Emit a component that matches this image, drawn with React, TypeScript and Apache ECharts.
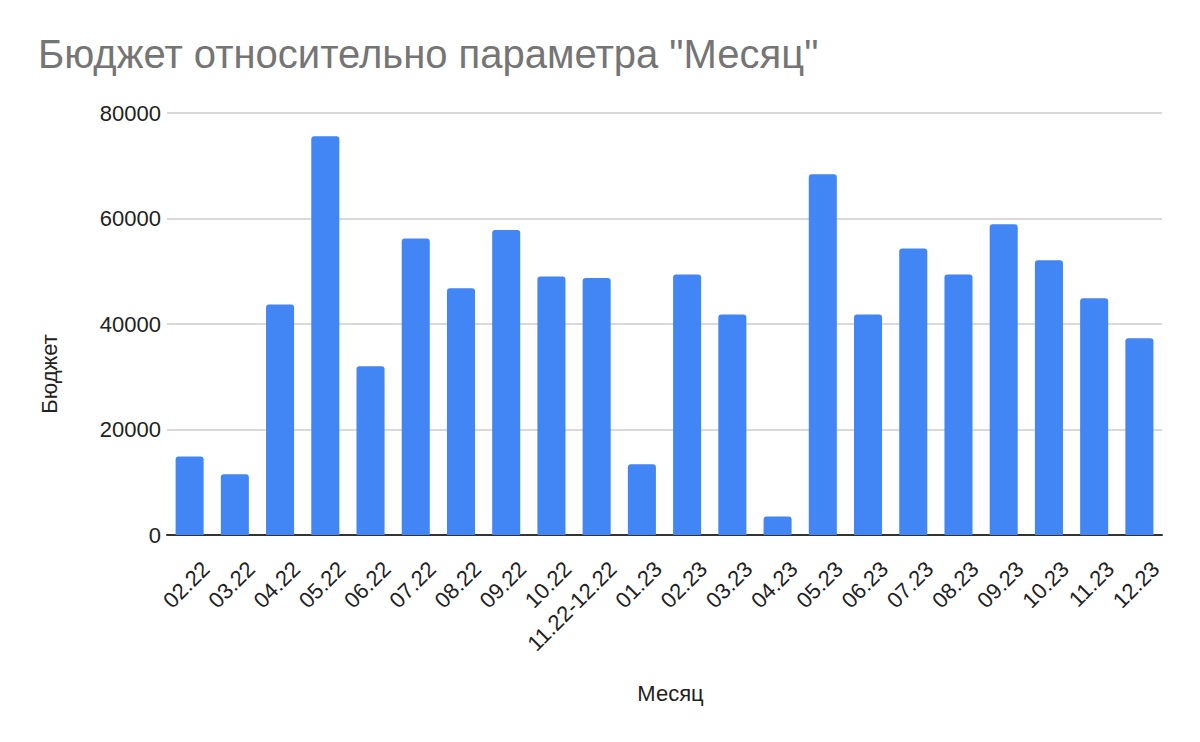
import React, { useEffect, useRef } from "react";
import * as echarts from "echarts";

const months = ["02.22","03.22","04.22","05.22","06.22","07.22","08.22","09.22","10.22","11.22-12.22","01.23","02.23","03.23","04.23","05.23","06.23","07.23","08.23","09.23","10.23","11.23","12.23"];
const budget = [14900,11500,43700,75600,32000,56200,46800,57800,49000,48700,13400,49400,41800,3500,68400,41800,54300,49400,58900,52100,44900,37300];
const yTicks = [0, 20000, 40000, 60000, 80000];

const FONT = "Liberation Sans, Arial, sans-serif";

export default function App() {
  const ref = useRef<HTMLDivElement>(null);
  useEffect(() => {
    const chart = echarts.init(ref.current!, null, { renderer: "svg" });
    chart.setOption({
      animation: false,
      backgroundColor: "#ffffff",
      title: {
        text: 'Бюджет относительно параметра "Месяц"',
        left: 33,
        top: 29,
        textStyle: { fontFamily: FONT, fontSize: 40, fontWeight: "normal", color: "#757575" },
      },
      grid: { left: 167, right: 38, top: 113, bottom: 207, containLabel: false },
      xAxis: {
        type: "category",
        data: months,
        name: "Месяц",
        nameLocation: "middle",
        nameGap: 147,
        nameTextStyle: { fontFamily: FONT, fontSize: 22, color: "#222222", padding: [0, 0, 0, 12] },
        axisLine: { lineStyle: { color: "#333333", width: 2 } },
        axisTick: { show: false },
        axisLabel: {
          rotate: 45,
          interval: 0,
          fontFamily: FONT,
          fontSize: 22,
          color: "#222222",
          margin: 14,
          verticalAlign: "top",
          padding: [12, 0, 0, 0],
        },
      },
      yAxis: {
        type: "value",
        min: yTicks[0],
        max: yTicks[yTicks.length - 1],
        interval: 20000,
        name: "Бюджет",
        nameLocation: "middle",
        nameGap: 107,
        nameTextStyle: { fontFamily: FONT, fontSize: 22, color: "#222222", padding: [0, 100, 0, 0] },
        axisLine: { show: false },
        axisTick: { show: false },
        splitLine: { lineStyle: { color: "#cccccc", width: 1.5 } },
        axisLabel: { fontFamily: FONT, fontSize: 22, color: "#222222", margin: 6, formatter: (v: number) => String(v) },
      },
      series: [
        {
          type: "bar",
          data: budget,
          barCategoryGap: "38%",
          itemStyle: { color: "#4285f4", borderRadius: [3, 3, 0, 0] },
        },
      ],
    });
    return () => chart.dispose();
  }, []);
  return <div ref={ref} style={{ width: 1200, height: 742, position: "absolute", left: 0, top: 0 }} />;
}
